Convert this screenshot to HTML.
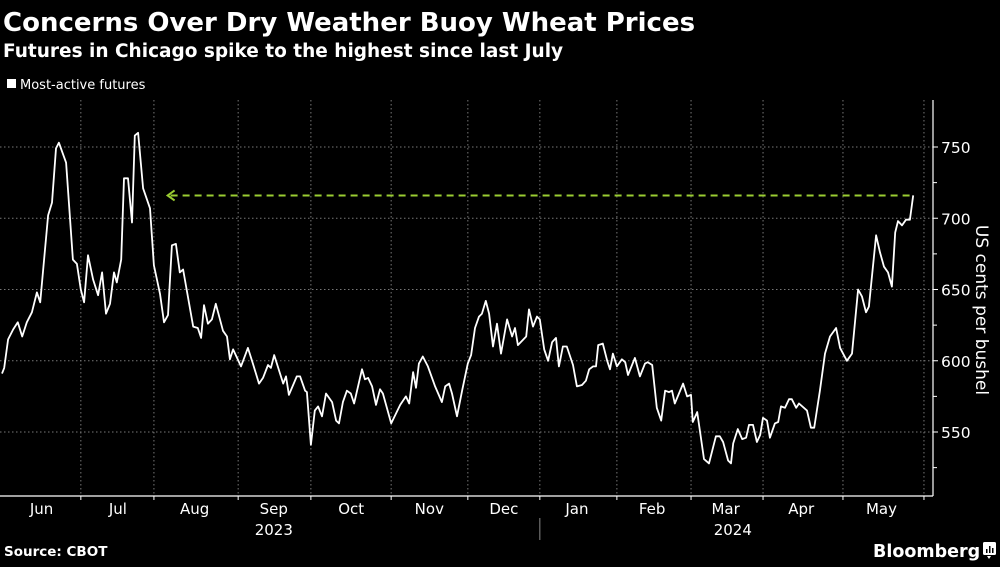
<!DOCTYPE html>
<html><head><meta charset="utf-8">
<style>
html,body{margin:0;padding:0;background:#000;}
body{width:1000px;height:562px;overflow:hidden;position:relative;font-family:"Liberation Sans","DejaVu Sans",sans-serif;color:#fff;}
</style></head>
<body>
<svg id="chart" width="1000" height="562" viewBox="0 0 1000 562" xmlns="http://www.w3.org/2000/svg">
<rect x="0" y="0" width="1000" height="562" fill="#000"/>
<text x="3" y="31" fill="#fff" font-family="DejaVu Sans, sans-serif" font-weight="bold" font-size="26">Concerns Over Dry Weather Buoy Wheat Prices</text>
<text x="3" y="57" fill="#fff" font-family="DejaVu Sans, sans-serif" font-weight="bold" font-size="18.5">Futures in Chicago spike to the highest since last July</text>
<g>
<rect x="7" y="79" width="9" height="9" fill="#fff"/>
<text x="20" y="89" fill="#fff" font-family="DejaVu Sans, sans-serif" font-size="13">Most-active futures</text>
</g>
<g id="grid"></g>
<g id="axes"></g>
<g id="marks"></g>
<text transform="translate(976,310) rotate(90)" text-anchor="middle" fill="#fff" font-family="DejaVu Sans, sans-serif" font-size="17">US cents per bushel</text>
<text x="4" y="556" fill="#fff" font-family="DejaVu Sans, sans-serif" font-weight="bold" font-size="13.5">Source: CBOT</text>
<text x="873" y="557" fill="#fff" font-family="DejaVu Sans, sans-serif" font-weight="bold" font-size="17.5">Bloomberg</text>
<g>
<rect x="983" y="542" width="13" height="13" rx="1.5" fill="#fff"/>
<path d="M987 556 l2 3 l2 -3z" fill="#fff"/>
<rect x="986" y="549" width="1.5" height="4" fill="#000"/><rect x="989" y="546" width="1.5" height="7" fill="#000"/><rect x="992" y="548" width="1.5" height="5" fill="#000"/>
</g>
</svg>
<script>
// trading-day index since start of series
const days = [0,0.6,1.7,3.1,4.4,5.6,6.9,8.3,9.7,10.6,12.8,13.9,15,15.8,17.8,19.7,20.8,21.9,22.8,23.9,25.3,26.7,27.8,28.9,30,31.1,31.9,33.1,33.9,35,36.1,36.9,37.8,39.2,41.1,42.2,43.9,45,46.1,47.2,48.3,49.4,50.3,53.1,54.4,55.3,56.1,57.2,58.3,59.4,61.4,62.5,63.3,64.2,66.4,68.3,69.7,71.4,72.5,73.9,74.7,75.6,78.1,78.9,79.7,81.9,82.8,84.2,84.7,85.8,86.9,87.8,88.9,90,
91.7,92.8,93.6,94.7,95.8,96.9,97.8,100,100.8,101.7,102.8,103.9,105,105.8,108.1,110.6,112.2,113.1,114.2,115,115.8,116.9,118.3,120.3,122.2,123.1,124.2,125,126.4,127.8,129.4,130.3,131.4,132.5,133.3,134.4,135.3,136.4,137.5,138.6,140.3,141.7,142.5,143.3,145.6,146.4,147.5,148.6,149.4,150.6,151.7,152.8,153.9,154.7,155.8,156.9,158.6,159.7,161.1,162.2,163.1,164.2,165,165.6,166.9,168.1,168.9,169.7,170.8,172.2,173.1,173.9,175.8,177.2,178.6,179.4,180.6,181.9,183.1,184.2,185.3,
186.1,186.9,189.2,190.3,191.4,191.9,193.1,195,196.4,198.3,199.4,200.3,201.7,202.5,203.1,204.4,205.6,206.7,207.5,208.6,209.7,210.6,211.4,212.5,213.3,214.7,215.6,216.4,217.5,218.6,219.4,220.6,221.4,223.6,224.7,225.6,227.2,228.6,230,231.7,232.8,234.7,236.1,237.8,238.9,240,240.8,242.8,243.9,245,246.1,247.2,248.1,248.9,250,251.1,252.2,253.1];
const prices = [591,595,615,622,627,617,627,634,648,641,702,711,749,753,739,671,668,650,641,674,657,646,662,633,640,662,655,671,728,728,697,758,760,721,707,667,647,627,632,681,682,662,664,624,623,616,639,626,629,640,621,617,601,608,596,609,598,584,588,597,595,604,584,589,576,589,589,579,578,541,565,568,561,577,
571,558,556,571,579,577,570,594,587,588,582,569,580,577,556,569,575,570,592,581,598,603,596,582,571,582,584,577,561,579,598,604,623,631,633,642,633,610,626,605,629,617,623,611,617,636,624,631,629,608,600,613,616,596,610,610,597,582,583,586,594,596,596,611,612,600,594,605,596,601,599,590,602,589,598,599,597,567,558,579,578,
579,570,584,575,576,557,564,531,528,547,547,543,530,528,542,552,545,546,555,555,543,548,560,558,546,556,557,568,567,573,573,567,570,565,553,553,579,605,617,623,609,600,605,650,645,634,638,688,676,666,662,652,690,698,695,699,699,716];
const monthTicks = [21.9,42.2,65.6,85.8,108.1,129.4,149.4,170.8,191.4,211.4,233.6,256.1];
const monthLabels = ["Jun","Jul","Aug","Sep","Oct","Nov","Dec","Jan","Feb","Mar","Apr","May"];
const monthLabelDays = [11,32.2,53.5,75.5,97,118.7,139.4,159.7,180.6,201,222,244.3];
const yearLabels = ["2023","2024"];
const yearLabelDays = [75.5,203];
const yearDivider = [149.4];
const yTicks = [550,600,650,700,750];
const yMinorTicks = [525,575,625,675,725];
const highRef = [716];
const highRefStartDay = 46.0;

const NS="http://www.w3.org/2000/svg";
const X0=2, PX_PER_DAY=3.6;
function xs(d){return X0+d*PX_PER_DAY;}
function ys(v){return 432-(v-550)*1.425;}
const AXIS_X=933, BOTTOM=496, TOP=100;
function mk(tag,attrs,parent){const e=document.createElementNS(NS,tag);for(const k in attrs)e.setAttribute(k,attrs[k]);parent.appendChild(e);return e;}
const grid=document.getElementById('grid'), axes=document.getElementById('axes'), marks=document.getElementById('marks');

yTicks.forEach(v=>{
  const l=mk('line',{x1:0,x2:AXIS_X,y1:ys(v),y2:ys(v),stroke:'#777','stroke-width':1,'stroke-dasharray':'1.5,2.5'},grid);
  
  
  const t=mk('line',{x1:AXIS_X,x2:AXIS_X+5,y1:ys(v),y2:ys(v),stroke:'#fff','stroke-width':1},axes);
  
  
  const tx=mk('text',{x:AXIS_X+8,y:ys(v)+6,fill:'#fff','font-family':'DejaVu Sans, sans-serif','font-size':'15.5'},axes);
  tx.textContent=v;
  
  
});
yMinorTicks.forEach(v=>{
  const t=mk('line',{x1:AXIS_X,x2:AXIS_X+4,y1:ys(v),y2:ys(v),stroke:'#fff','stroke-width':1},axes);
  
  
});
monthTicks.forEach(d=>{
  const g=mk('line',{x1:xs(d),x2:xs(d),y1:TOP,y2:BOTTOM,stroke:'#777','stroke-width':1,'stroke-dasharray':'1.5,2.5'},grid);
  
  
  const t=mk('line',{x1:xs(d),x2:xs(d),y1:BOTTOM,y2:BOTTOM+4,stroke:'#fff','stroke-width':1},axes);
  
  
});
const ax=mk('line',{x1:0,x2:AXIS_X,y1:BOTTOM,y2:BOTTOM,stroke:'#fff','stroke-width':1.2},axes);


const ay=mk('line',{x1:AXIS_X,x2:AXIS_X,y1:TOP,y2:BOTTOM,stroke:'#fff','stroke-width':1.2},axes);


monthLabels.forEach((m,i)=>{
  const t=mk('text',{x:xs(monthLabelDays[i]),y:514,'text-anchor':'middle',fill:'#fff','font-family':'DejaVu Sans, sans-serif','font-size':'15'},axes);
  t.textContent=m;
  
  
});
yearLabels.forEach((y,i)=>{
  const t=mk('text',{x:xs(yearLabelDays[i]),y:535,'text-anchor':'middle',fill:'#fff','font-family':'DejaVu Sans, sans-serif','font-size':'15'},axes);
  t.textContent=y;
  
  
});
yearDivider.forEach(d=>{
  const l=mk('line',{x1:xs(d),x2:xs(d),y1:518,y2:540,stroke:'#888','stroke-width':1},axes);
  
  
});
// high reference line
const hy=ys(highRef[0]);
const hl=mk('line',{x1:xs(highRefStartDay)+3,x2:xs(days[days.length-1]),y1:hy,y2:hy,stroke:'#9acd32','stroke-width':2,'stroke-dasharray':'7,5'},marks);


const ha=mk('path',{d:`M${xs(highRefStartDay)+7} ${hy-5} L${xs(highRefStartDay)} ${hy} L${xs(highRefStartDay)+7} ${hy+5}`,fill:'none',stroke:'#9acd32','stroke-width':2},marks);


// price line
let d='';
prices.forEach((v,i)=>{d+=(i?'L':'M')+xs(days[i]).toFixed(1)+' '+ys(v).toFixed(1);});
const pl=mk('path',{d:d,fill:'none',stroke:'#fff','stroke-width':1.8,'stroke-linejoin':'round'},marks);


</script>
</body></html>
